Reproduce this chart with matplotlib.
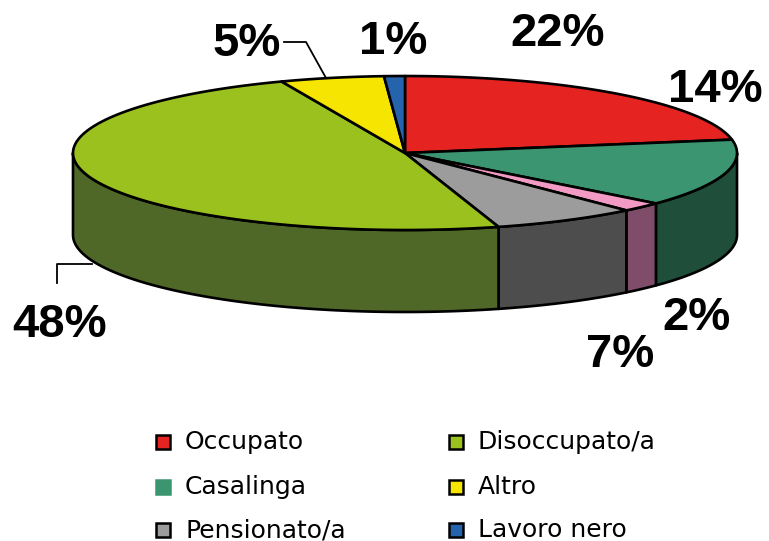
import numpy as np
import matplotlib
matplotlib.use('Agg')
import matplotlib.pyplot as plt
from matplotlib.patches import Polygon, Rectangle

# Slices in drawing order, clockwise from 12 o'clock
labels   = ["Occupato", "Casalinga", "Studente", "Pensionato/a",
            "Disoccupato/a", "Altro", "Lavoro nero"]
values   = [22, 14, 2, 7, 48, 5, 1]
top_col  = ["#e52421", "#3a9570", "#f29ac3", "#9c9c9c",
            "#9bc11e", "#f5e500", "#2563ad"]
side_col = ["#8f1614", "#1f4e3a", "#7f4d6a", "#4d4d4d",
            "#4f6827", "#9a9000", "#173e6d"]

# Legend layout (two columns, Studente not listed)
legend_items = ["Occupato", "Disoccupato/a", "Casalinga", "Altro",
                "Pensionato/a", "Lavoro nero"]

# percentage labels: (x, y, leader line points)
pct_pos = {
    "Occupato":      (558, 34, None),
    "Casalinga":     (715, 90, None),
    "Studente":      (697, 318, None),
    "Pensionato/a":  (620, 355, None),
    "Disoccupato/a": (60, 325, [(57, 283), (57, 264), (92, 264)]),
    "Altro":         (247, 44, [(284, 42), (306, 42), (326, 78)]),
    "Lavoro nero":   (393, 42, None),
}

CX, CY = 405, 153
RX, RY = 332, 77
DEPTH = 82
W, H = 769, 541


def ell(t_deg, dy=0):
    t = np.radians(t_deg)
    return np.column_stack([CX + RX * np.cos(t), CY - RY * np.sin(t) + dy])


fig = plt.figure(figsize=(W / 100, H / 100), dpi=100)
ax = fig.add_axes([0, 0, 1, 1])
ax.set_xlim(0, W)
ax.set_ylim(H, 0)
ax.axis('off')

fracs = np.array(values, dtype=float) / sum(values)
bounds = 90 - 360 * np.concatenate([[0], np.cumsum(fracs)])

# side walls: only the front half (t in [-180, 0]) is visible
for i in range(len(values)):
    t0, t1 = bounds[i], bounds[i + 1]
    a, b = min(t0, 0), max(t1, -180)
    if a <= b:
        continue
    ts = np.linspace(a, b, 80)
    pts = np.vstack([ell(ts), ell(ts[::-1], DEPTH)])
    ax.add_patch(Polygon(pts, closed=True, fc=side_col[i], ec='black',
                         lw=1.9, joinstyle='round'))

# top face
for i in range(len(values)):
    ts = np.linspace(bounds[i], bounds[i + 1], 120)
    pts = np.vstack([[CX, CY], ell(ts)])
    ax.add_patch(Polygon(pts, closed=True, fc=top_col[i], ec='black',
                         lw=1.9, joinstyle='round'))

# percentage labels
for lab, v in zip(labels, values):
    x, y, leader = pct_pos[lab]
    ax.text(x, y, f"{v}%", ha='center', va='center', fontsize=34,
            fontweight='bold', family='Liberation Sans', color='black')
    if leader:
        lx, ly = zip(*leader)
        ax.plot(lx, ly, color='black', lw=1.3)

# legend
col_x = [156, 449]
row_y = [442, 487, 530]
for k, lab in enumerate(legend_items):
    x = col_x[k % 2]
    y = row_y[k // 2]
    i = labels.index(lab)
    ec = top_col[i] if lab == "Casalinga" else 'black'
    ax.add_patch(Rectangle((x, y - 7), 14, 14, fc=top_col[i], ec=ec, lw=1.8))
    ax.text(x + 29, y, lab, ha='left', va='center', fontsize=18,
            family='DejaVu Sans', color='black')

fig.savefig("out.png", dpi=100)
